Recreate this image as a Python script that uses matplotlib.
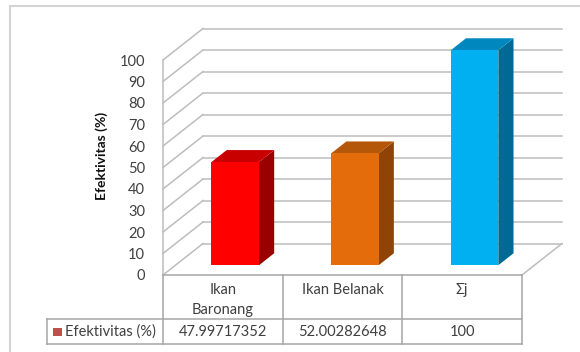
import matplotlib
matplotlib.use("Agg")
import matplotlib.pyplot as plt
from matplotlib.patches import Polygon, Rectangle
from matplotlib.lines import Line2D

# ---- data ----
categories = ["Ikan\nBaronang", "Ikan Belanak", "Σj"]
values = [47.99717352, 52.00282648, 100]
value_labels = ["47.99717352", "52.00282648", "100"]
series_name = "Efektivitas (%)"
y_ticks = [0, 10, 20, 30, 40, 50, 60, 70, 80, 90, 100]

front_colors = ["#FF0000", "#E46C0A", "#00B0F0"]
top_colors = ["#C80000", "#B45708", "#0088BE"]
side_colors = ["#9A0000", "#8F4405", "#006A95"]

plt.rcParams['font.family'] = ['Lato', 'DejaVu Sans']

W, H = 580, 352
fig = plt.figure(figsize=(W / 100, H / 100), dpi=100)

# front plane of the 3D plot (pixels)
px_l, px_r, px_t, px_b = 163, 522, 60, 275
ax = fig.add_axes([px_l / W, (H - px_b) / H, (px_r - px_l) / W, (px_b - px_t) / H])
ax.set_xlim(0, 3)
ax.set_ylim(0, 100)
for s in ax.spines.values():
    s.set_visible(False)
ax.set_xticks([])
ax.set_yticks(y_ticks)
ax.tick_params(axis='y', length=0, pad=13, labelsize=10.5, labelcolor="#404040")
ax.set_ylabel("Efektivitas (%)", fontsize=10, fontweight='bold', color="#111111")
ax.yaxis.set_label_coords(-0.152, 0.555)
ax.patch.set_alpha(0)

upx = (px_r - px_l) / 3.0   # px per category
upy = (px_b - px_t) / 100.0  # px per value unit
DX = 40 / upx
DY = 31.5 / upy

gc = "#BDBDBD"
glw = 1.1
# front vertical axis line
ax.add_line(Line2D([0, 0], [0, 100], color=gc, lw=glw, clip_on=False, zorder=1))
for v in y_ticks:
    ax.add_line(Line2D([0, DX], [v, v + DY], color=gc, lw=glw, clip_on=False, zorder=1))
    ax.add_line(Line2D([DX, 3 + DX], [v + DY, v + DY], color=gc, lw=glw, clip_on=False, zorder=1))
# floor right edge
ax.add_line(Line2D([3, 3 + DX], [0, DY], color=gc, lw=glw, clip_on=False, zorder=1))

# bars
w = 0.397
f0 = 0.31
d = 0.38
for i, v in enumerate(values):
    x0 = i + (1 - w) / 2 + f0 * DX
    y0 = f0 * DY
    ex, ey = d * DX, d * DY
    front = Rectangle((x0, y0), w, v, facecolor=front_colors[i], edgecolor='none',
                      clip_on=False, zorder=3)
    top = Polygon([(x0, y0 + v), (x0 + w, y0 + v), (x0 + w + ex, y0 + v + ey), (x0 + ex, y0 + v + ey)],
                  closed=True, facecolor=top_colors[i], edgecolor='none', clip_on=False, zorder=3)
    side = Polygon([(x0 + w, y0), (x0 + w + ex, y0 + ey), (x0 + w + ex, y0 + v + ey), (x0 + w, y0 + v)],
                   closed=True, facecolor=side_colors[i], edgecolor='none', clip_on=False, zorder=3)
    ax.add_patch(side)
    ax.add_patch(top)
    ax.add_patch(front)

# data table
tc = "#A6A6A6"
tlw = 1.1
row1 = -(319 - px_b) / upy
row2 = -(344 - px_b) / upy
leg_l = (47 - px_l) / upx

def tl(xs, ys):
    ax.add_line(Line2D(xs, ys, color=tc, lw=tlw, clip_on=False, zorder=2))

tl([0, 3], [0, 0])
tl([leg_l, 3], [row1, row1])
tl([leg_l, 3], [row2, row2])
tl([leg_l, leg_l], [row1, row2])
for k in range(4):
    tl([k, k], [0, row2])

txt_col = "#404040"
for i, c in enumerate(categories):
    ax.text(i + 0.5, -(283 - px_b) / upy, c, ha='center', va='top', fontsize=10.5,
            color=txt_col, linespacing=1.55, clip_on=False)
    ax.text(i + 0.5, (row1 + row2) / 2, value_labels[i], ha='center', va='center',
            fontsize=10.5, color=txt_col, clip_on=False)

ax.add_patch(Rectangle(((53 - px_l) / upx, (row1 + row2) / 2 - 4 / upy), 9 / upx, 8 / upy,
                       facecolor="#C0504D", edgecolor='none', clip_on=False))
ax.text((65 - px_l) / upx, (row1 + row2) / 2, series_name, ha='left', va='center',
        fontsize=10.5, color=txt_col, clip_on=False)

# outer chart border
bc = "#D4D4D4"
fig.add_artist(Line2D([10 / W, 10 / W], [0, (H - 6) / H], color=bc, lw=1.5, transform=fig.transFigure))
fig.add_artist(Line2D([10 / W, 1], [(H - 6) / H, (H - 6) / H], color=bc, lw=1.5, transform=fig.transFigure))

fig.savefig("out.png", dpi=100)
